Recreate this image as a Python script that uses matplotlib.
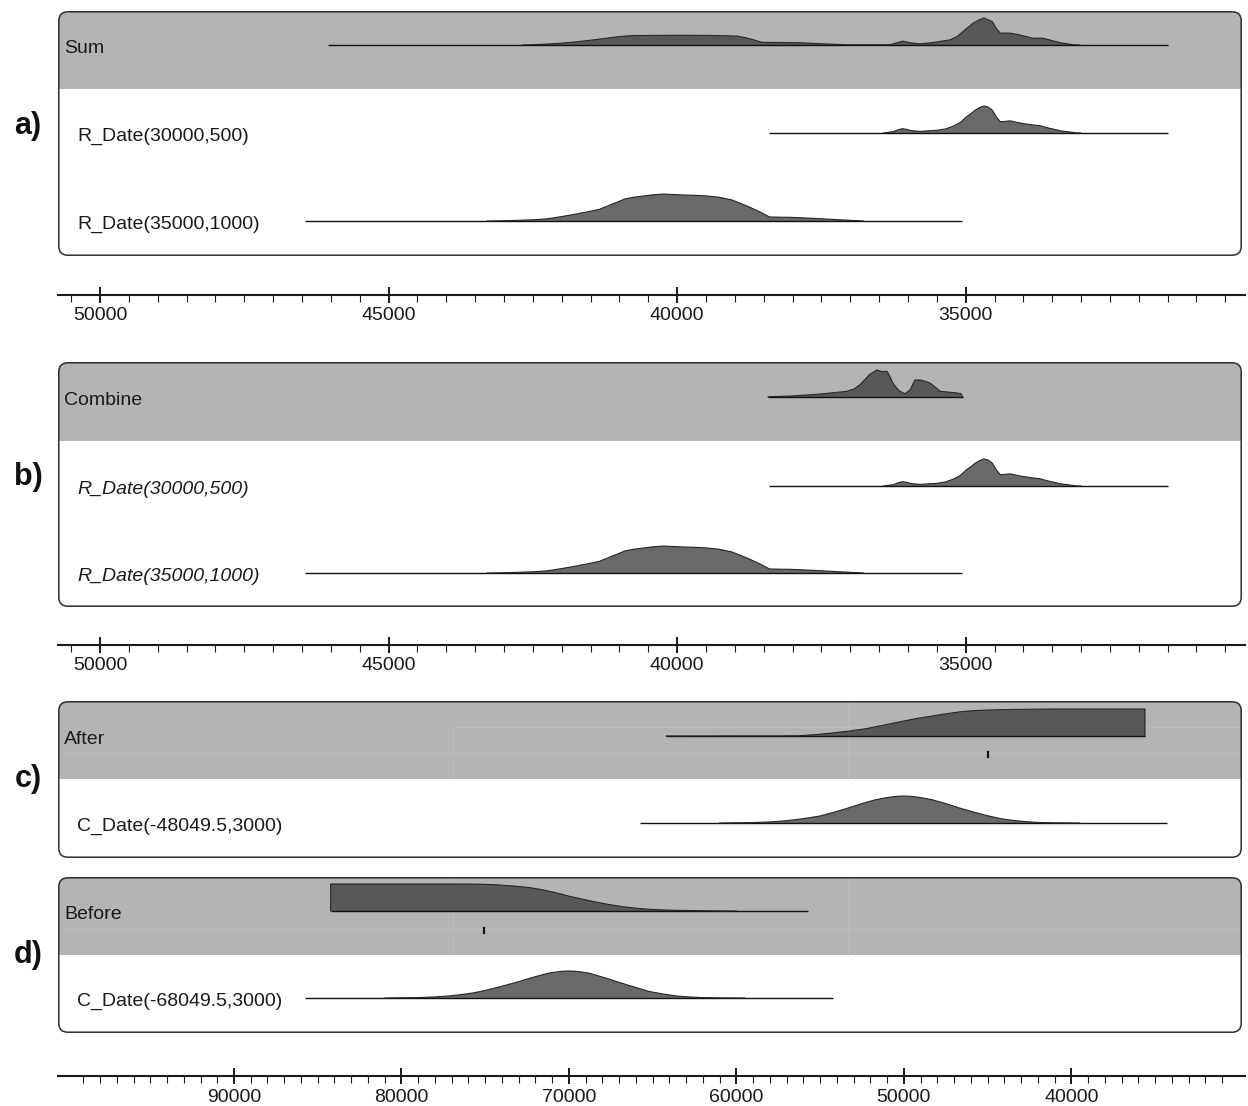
import matplotlib
matplotlib.use("Agg")
import matplotlib.pyplot as plt
from matplotlib.patches import FancyBboxPatch, Rectangle
from matplotlib.ticker import FixedLocator

plt.rcParams['font.family'] = ['Liberation Sans', 'DejaVu Sans']

# ---------------- data (years cal BP, relative probability 0..1) ----------------
# R_Date(30000,500)
r30_line = [38410, 31500]
r30_years = [36430, 36250, 36170, 36090, 36010, 35950, 35790, 35640, 35500, 35350, 35220, 35100,
             34980, 34900, 34850, 34800, 34750, 34680, 34610, 34540, 34470, 34400, 34320, 34230,
             34080, 33940, 33800, 33710, 33600, 33490, 33360, 33240, 33100, 33000]
r30_dens = [0.0, 0.05, 0.12, 0.16, 0.13, 0.09, 0.06, 0.08, 0.10, 0.15, 0.25, 0.38,
            0.61, 0.73, 0.82, 0.89, 0.95, 1.00, 0.96, 0.85, 0.60, 0.42, 0.43, 0.45,
            0.38, 0.33, 0.29, 0.27, 0.20, 0.15, 0.08, 0.05, 0.01, 0.0]

# R_Date(35000,1000)
r35_line = [46450, 35070]
r35_years = [43300, 42990, 42700, 42450, 42240, 41980, 41720, 41530, 41350, 41130,
             40900, 40750, 40610, 40420, 40240, 40050, 39860, 39680, 39500, 39270,
             39050, 38910, 38750, 38560, 38400, 38200, 38030, 37650, 37400, 37130, 36770]
r35_dens = [0.0, 0.01, 0.03, 0.05, 0.085, 0.17, 0.27, 0.35, 0.43, 0.62,
            0.82, 0.88, 0.92, 0.97, 1.00, 0.98, 0.96, 0.95, 0.93, 0.88,
            0.78, 0.66, 0.52, 0.33, 0.15, 0.14, 0.135, 0.10, 0.07, 0.04, 0.0]

# Sum
sum_line = [46050, 31500]
sum_years = [42690, 42350, 42050, 41780, 41530, 41300, 41090, 40900, 40760, 40450,
             40120, 39800, 39480, 39200, 38960, 38840, 38720, 38530, 38200, 37890,
             37440, 37040, 36310, 36180, 36090, 35950, 35790, 35570, 35270, 35150,
             35000, 34870, 34770, 34680, 34540, 34470, 34400, 34230, 34060, 33830,
             33660, 33500, 33370, 33140, 33020]
sum_dens = [0.0, 0.025, 0.06, 0.11, 0.17, 0.23, 0.29, 0.33, 0.35, 0.355,
            0.36, 0.36, 0.355, 0.345, 0.33, 0.28, 0.22, 0.10, 0.09, 0.085,
            0.04, 0.01, 0.01, 0.09, 0.14, 0.08, 0.04, 0.09, 0.19, 0.31,
            0.58, 0.81, 0.93, 1.00, 0.87, 0.62, 0.44, 0.44, 0.37, 0.25,
            0.25, 0.16, 0.09, 0.01, 0.0]

# Combine
comb_line = [38425, 35050]
comb_years = [38425, 37990, 37520, 37060, 36930, 36830, 36740, 36660, 36540, 36450,
              36360, 36310, 36260, 36200, 36140, 36050, 35960, 35920, 35880, 35790,
              35700, 35620, 35530, 35440, 35150, 35080, 35050]
comb_dens = [0.01, 0.04, 0.11, 0.21, 0.30, 0.46, 0.66, 0.84, 1.00, 0.94,
             0.95, 0.75, 0.52, 0.34, 0.21, 0.12, 0.27, 0.45, 0.63, 0.63,
             0.58, 0.52, 0.37, 0.21, 0.15, 0.12, 0.0]

# After (boundary)
after_line = [64200, 35600]
after_years = [64200, 57500, 56260, 55300, 54290, 53300, 52260, 51300, 50290, 49300,
               48320, 47400, 46590, 45800, 45090, 44200, 43360, 42000, 40910, 35600, 35600]
after_dens = [0.0, 0.005, 0.01, 0.05, 0.11, 0.18, 0.27, 0.39, 0.52, 0.64,
              0.74, 0.83, 0.90, 0.94, 0.96, 0.975, 0.985, 0.995, 1.0, 1.0, 0.0]
after_mark = 44980

# C_Date(-48049.5,3000)
cd48_line = [65760, 34290]
cd48_years = [61000, 59000, 58000, 57200, 56500, 55700, 55000, 54100, 53300, 52500,
              51700, 51200, 50800, 50400, 50000, 49600, 49200, 48800, 48300, 47500,
              46700, 45800, 45000, 44200, 43400, 42700, 42000, 41000, 39500]
cd48_dens = [0.0, 0.015, 0.04, 0.075, 0.12, 0.19, 0.26, 0.41, 0.56, 0.72,
             0.86, 0.92, 0.96, 0.99, 1.0, 0.99, 0.96, 0.92, 0.86, 0.72,
             0.56, 0.40, 0.27, 0.16, 0.09, 0.05, 0.02, 0.007, 0.0]

# Before (boundary)
before_line = [84230, 55720]
before_years = [84230, 84230, 77000, 75490, 74300, 73220, 72400, 71610, 70800, 70000,
                69200, 68380, 67600, 66770, 65950, 65160, 64400, 63550, 61870, 60000]
before_dens = [0.0, 1.0, 1.0, 0.995, 0.97, 0.92, 0.87, 0.79, 0.68, 0.55,
               0.44, 0.33, 0.24, 0.16, 0.10, 0.06, 0.04, 0.025, 0.01, 0.0]
before_mark = 75070

# C_Date(-68049.5,3000)
cd68_line = [85760, 54230]
cd68_years = [81000, 79000, 78000, 77200, 76500, 75700, 75000, 74100, 73200, 72400,
              71600, 71200, 70800, 70400, 70000, 69600, 69200, 68800, 68400, 67600,
              66800, 65900, 65200, 64300, 63500, 62700, 62000, 61000, 59500]
cd68_dens = [0.0, 0.015, 0.04, 0.075, 0.12, 0.19, 0.28, 0.42, 0.57, 0.72,
             0.86, 0.92, 0.96, 0.99, 1.0, 0.99, 0.96, 0.92, 0.85, 0.70,
             0.54, 0.37, 0.24, 0.14, 0.07, 0.035, 0.015, 0.005, 0.0]

ab_major = [50000, 45000, 40000, 35000]
cd_major = [90000, 80000, 70000, 60000, 50000, 40000]

# ---------------- layout ----------------
FIG_W, FIG_H = 1248, 1106
fig = plt.figure(figsize=(FIG_W / 100, FIG_H / 100), dpi=100)


def frac(x0, y0, x1, y1):
    return [x0 / FIG_W, 1 - y1 / FIG_H, (x1 - x0) / FIG_W, (y1 - y0) / FIG_H]


def yr_ab(px):
    return 50000 - (px - 100) / 0.05771


def yr_cd(px):
    return 90000 - (px - 234) / 0.016746


GRAY = '#b5b4b5'
FILL_G = '#595859'
FILL_W = '#6a696a'
EDGE = '#262626'
TXT = '#1a1a1a'
PEAK = 27
FS = 14


def make_panel(box, gray_h, to_year):
    x0, y0, x1, y1 = box
    w, h = x1 - x0, y1 - y0
    bg = fig.add_axes(frac(*box), zorder=0)
    bg.set_xlim(0, w)
    bg.set_ylim(h, 0)
    bg.axis('off')
    shape = FancyBboxPatch((0.8, 0.8), w - 1.6, h - 1.6,
                           boxstyle='round,pad=0,rounding_size=9',
                           facecolor='white', edgecolor='none', zorder=1)
    bg.add_patch(shape)
    band = Rectangle((0, 0), w, gray_h, facecolor=GRAY, edgecolor='none', zorder=2)
    bg.add_patch(band)
    band.set_clip_path(shape)
    border = FancyBboxPatch((0.8, 0.8), w - 1.6, h - 1.6,
                            boxstyle='round,pad=0,rounding_size=9',
                            facecolor='none', edgecolor='#2e2e2e', lw=1.1, zorder=10)
    bg.add_patch(border)
    ax = fig.add_axes(frac(*box), zorder=1)
    ax.set_xlim(to_year(x0), to_year(x1))
    ax.set_ylim(h, 0)
    ax.axis('off')
    return bg, ax


def draw_row(ax, base, line, years, dens, fc):
    ax.plot(line, [base, base], color='#111111', lw=1.0, solid_capstyle='butt', zorder=3)
    top = [base - d * PEAK for d in dens]
    ax.fill_between(years, base, top, facecolor=fc, edgecolor='none', zorder=2)
    ax.plot(years, top, color=EDGE, lw=0.8, zorder=4)


def label(bg, x, base, text, italic=False):
    bg.text(x, base + 8, text, fontsize=FS, color=TXT, ha='left', va='baseline',
            style='italic' if italic else 'normal')


def make_scale(y_line, to_year, majors, minors):
    x0, x1 = 58, 1245
    ax = fig.add_axes(frac(x0, y_line - 10, x1, y_line))
    ax.set_xlim(to_year(x0), to_year(x1))
    ax.set_ylim(0, 1)
    for s in ['top', 'left', 'right']:
        ax.spines[s].set_visible(False)
    ax.spines['bottom'].set_linewidth(1.5)
    ax.spines['bottom'].set_color('#1a1a1a')
    ax.patch.set_alpha(0)
    ax.set_yticks([])
    ax.xaxis.set_major_locator(FixedLocator(majors))
    ax.xaxis.set_minor_locator(FixedLocator(minors))
    ax.set_xticklabels([str(m) for m in majors])
    ax.tick_params(axis='x', which='major', direction='inout', length=11, width=1.4,
                   labelsize=FS, pad=3.5, color='#1a1a1a', labelcolor=TXT)
    ax.tick_params(axis='x', which='minor', direction='out', length=5, width=0.8,
                   color='#1a1a1a')


ab_minor = [y for y in range(50500, 30400, -500) if y not in ab_major]
cd_minor = [y for y in range(99000, 30500, -1000) if y not in cd_major]

# ---- panel a ----
bg, ax = make_panel((58, 11, 1242, 256), 78, yr_ab)
draw_row(ax, 34, sum_line, sum_years, sum_dens, FILL_G)
draw_row(ax, 122, r30_line, r30_years, r30_dens, FILL_W)
draw_row(ax, 210, r35_line, r35_years, r35_dens, FILL_W)
label(bg, 6, 34, 'Sum')
label(bg, 19, 122, 'R_Date(30000,500)')
label(bg, 19, 210, 'R_Date(35000,1000)')
make_scale(295, yr_ab, ab_major, ab_minor)

# ---- panel b ----
bg, ax = make_panel((58, 362, 1242, 607), 79, yr_ab)
draw_row(ax, 35, comb_line, comb_years, comb_dens, FILL_G)
draw_row(ax, 124, r30_line, r30_years, r30_dens, FILL_W)
draw_row(ax, 211, r35_line, r35_years, r35_dens, FILL_W)
label(bg, 6, 35, 'Combine')
label(bg, 19, 124, 'R_Date(30000,500)', italic=True)
label(bg, 19, 211, 'R_Date(35000,1000)', italic=True)
make_scale(645, yr_ab, ab_major, ab_minor)

# ---- panel c ----
bg, ax = make_panel((58, 701, 1242, 858), 78, yr_cd)
for (xa, ya, xb, yb) in [(395, 26, 395, 78), (790, 0, 790, 78), (395, 26, 1184, 26), (0, 52, 1184, 52)]:
    bg.plot([xa, xb], [ya, yb], color='#c0bfc0', lw=0.5, zorder=3)
draw_row(ax, 35, after_line, after_years, after_dens, FILL_G)
ax.plot([after_mark, after_mark], [51, 56], color='#111111', lw=1.6, zorder=5)
draw_row(ax, 122, cd48_line, cd48_years, cd48_dens, FILL_W)
label(bg, 6, 35, 'After')
label(bg, 19, 122, 'C_Date(-48049.5,3000)')

# ---- panel d ----
bg, ax = make_panel((58, 877, 1242, 1033), 78, yr_cd)
for (xa, ya, xb, yb) in [(395, 0, 395, 78), (790, 0, 790, 78), (0, 52, 1184, 52)]:
    bg.plot([xa, xb], [ya, yb], color='#c0bfc0', lw=0.5, zorder=3)
draw_row(ax, 34, before_line, before_years, before_dens, FILL_G)
ax.plot([before_mark, before_mark], [51, 56], color='#111111', lw=1.6, zorder=5)
draw_row(ax, 121, cd68_line, cd68_years, cd68_dens, FILL_W)
label(bg, 6, 34, 'Before')
label(bg, 19, 121, 'C_Date(-68049.5,3000)')
make_scale(1076, yr_cd, cd_major, cd_minor)

# ---- panel letters ----
for txt, yc in [('a)', 126), ('b)', 477), ('c)', 779), ('d)', 955)]:
    fig.text(28 / FIG_W, 1 - yc / FIG_H, txt, fontsize=22, fontweight='bold',
             ha='center', va='center', color='#111111')

fig.savefig('out.png', dpi=100)
